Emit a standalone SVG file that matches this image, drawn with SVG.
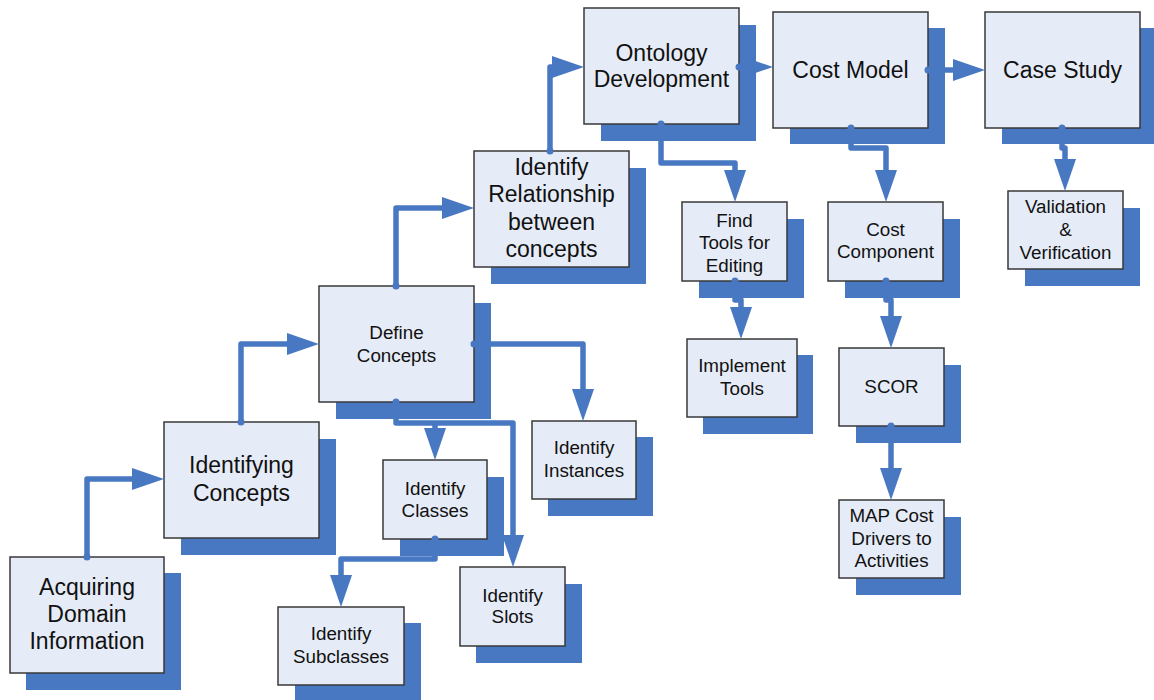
<svg xmlns="http://www.w3.org/2000/svg" width="1154" height="700" viewBox="0 0 1154 700">
<style>
.sh{fill:#4878c2}
.bx{fill:#e6ecf7;stroke:#383838;stroke-width:1.5}
text{font-family:"Liberation Sans",Arial,sans-serif;fill:#111;text-anchor:middle}
.b{font-size:23px}
.s{font-size:18.8px}
.c path{fill:none;stroke:#4878c2;stroke-width:5.5;stroke-linejoin:round;marker-end:url(#ah)}
.c circle{fill:#4878c2}
</style>
<defs>
<marker id="ah" markerUnits="userSpaceOnUse" markerWidth="40" markerHeight="30" refX="2" refY="11" orient="auto" viewBox="0 0 40 22">
<path d="M0,0 L32,11 L0,22 z" fill="#4878c2"/>
</marker>
</defs>
<rect width="1154" height="700" fill="#fff"/>

<g id="acquiring">
<rect class="sh" x="26" y="573" width="155" height="117"/>
<rect class="bx" x="10" y="557" width="154" height="116"/>
<text class="b" x="87" y="595">Acquiring</text>
<text class="b" x="87" y="622">Domain</text>
<text class="b" x="87" y="649">Information</text>
</g>
<g id="identifying-concepts">
<rect class="sh" x="181" y="439" width="155" height="116"/>
<rect class="bx" x="164" y="422" width="155" height="116"/>
<text class="b" x="241.5" y="473">Identifying</text>
<text class="b" x="241.5" y="501">Concepts</text>
</g>
<g id="define-concepts">
<rect class="sh" x="336" y="303" width="155" height="116"/>
<rect class="bx" x="319" y="286" width="155" height="116"/>
<text class="s" x="396.5" y="339">Define</text>
<text class="s" x="396.5" y="362">Concepts</text>
</g>
<g id="identify-relationship">
<rect class="sh" x="491" y="168" width="155" height="116"/>
<rect class="bx" x="474" y="151" width="155" height="116"/>
<text class="b" x="551.5" y="175">Identify</text>
<text class="b" x="551.5" y="202">Relationship</text>
<text class="b" x="551.5" y="230">between</text>
<text class="b" x="551.5" y="257">concepts</text>
</g>
<g id="ontology-development">
<rect class="sh" x="601" y="25" width="155" height="116"/>
<rect class="bx" x="584" y="8" width="155" height="116"/>
<text class="b" x="661.5" y="61">Ontology</text>
<text class="b" x="661.5" y="87">Development</text>
</g>
<g id="cost-model">
<rect class="sh" x="790" y="28" width="155" height="116"/>
<rect class="bx" x="773" y="12" width="155" height="116"/>
<text class="b" x="850.5" y="78">Cost Model</text>
</g>
<g id="case-study">
<rect class="sh" x="1002" y="28" width="155" height="116"/>
<rect class="bx" x="985" y="12" width="155" height="116"/>
<text class="b" x="1062.5" y="78">Case Study</text>
</g>
<g id="find-tools">
<rect class="sh" x="699" y="219" width="105" height="79"/>
<rect class="bx" x="682" y="202" width="105" height="79"/>
<text class="s" x="734.5" y="227">Find</text>
<text class="s" x="734.5" y="249">Tools for</text>
<text class="s" x="734.5" y="272">Editing</text>
</g>
<g id="implement-tools">
<rect class="sh" x="703" y="355" width="110" height="79"/>
<rect class="bx" x="687" y="339" width="110" height="78"/>
<text class="s" x="742" y="372">Implement</text>
<text class="s" x="742" y="395">Tools</text>
</g>
<g id="cost-component">
<rect class="sh" x="845" y="219" width="115" height="79"/>
<rect class="bx" x="828" y="202" width="115" height="79"/>
<text class="s" x="885.5" y="236">Cost</text>
<text class="s" x="885.5" y="258">Component</text>
</g>
<g id="scor">
<rect class="sh" x="856" y="365" width="105" height="78"/>
<rect class="bx" x="839" y="348" width="105" height="78"/>
<text class="s" x="891.5" y="393">SCOR</text>
</g>
<g id="map-cost-drivers">
<rect class="sh" x="856" y="517" width="105" height="78"/>
<rect class="bx" x="839" y="500" width="105" height="78"/>
<text class="s" x="891.5" y="522">MAP Cost</text>
<text class="s" x="891.5" y="545">Drivers to</text>
<text class="s" x="891.5" y="567">Activities</text>
</g>
<g id="validation">
<rect class="sh" x="1025" y="208" width="115" height="78"/>
<rect class="bx" x="1008" y="191" width="115" height="78"/>
<text class="s" x="1065.5" y="213">Validation</text>
<text class="s" x="1065.5" y="236">&amp;</text>
<text class="s" x="1065.5" y="259">Verification</text>
</g>
<g id="identify-instances">
<rect class="sh" x="548" y="437" width="105" height="79"/>
<rect class="bx" x="532" y="421" width="104" height="78"/>
<text class="s" x="584" y="454">Identify</text>
<text class="s" x="584" y="477">Instances</text>
</g>
<g id="identify-classes">
<rect class="sh" x="400" y="477" width="104" height="79"/>
<rect class="bx" x="383" y="460" width="104" height="79"/>
<text class="s" x="435" y="495">Identify</text>
<text class="s" x="435" y="517">Classes</text>
</g>
<g id="identify-slots">
<rect class="sh" x="476" y="584" width="106" height="79"/>
<rect class="bx" x="460" y="567" width="105" height="79"/>
<text class="s" x="512.5" y="602">Identify</text>
<text class="s" x="512.5" y="623">Slots</text>
</g>
<g id="identify-subclasses">
<rect class="sh" x="295" y="623" width="126" height="79"/>
<rect class="bx" x="278" y="607" width="126" height="78"/>
<text class="s" x="341" y="640">Identify</text>
<text class="s" x="341" y="663">Subclasses</text>
</g>

<g id="connectors" class="c">
<path d="M87,557 V479 H134"/>
<path d="M241,422 V344 H289"/>
<path d="M396,286 V208 H444"/>
<path d="M550,151 V67 H554"/>
<path d="M739,67 H743"/>
<path d="M928,70 H955"/>
<path d="M661,124 V163 H735 V172"/>
<path d="M851,128 V148 H886 V172"/>
<path d="M1062,128 V148 H1065 V161"/>
<path d="M735,281 V300 H741 V309"/>
<path d="M886,281 V300 H891 V318"/>
<path d="M891,426 V470"/>
<path d="M474,344 H583 V391"/>
<path d="M396,402 V423 H513 V537"/>
<path d="M435,423 V430"/>
<path d="M435,539 V559 H341 V577"/>
<circle cx="87" cy="557" r="3.5"/>
<circle cx="241" cy="422" r="3.5"/>
<circle cx="396" cy="286" r="3.5"/>
<circle cx="550" cy="151" r="3.5"/>
<circle cx="739" cy="67" r="3.5"/>
<circle cx="928" cy="70" r="3.5"/>
<circle cx="661" cy="124" r="3.5"/>
<circle cx="851" cy="128" r="3.5"/>
<circle cx="1062" cy="128" r="3.5"/>
<circle cx="735" cy="281" r="3.5"/>
<circle cx="886" cy="281" r="3.5"/>
<circle cx="891" cy="426" r="3.5"/>
<circle cx="474" cy="344" r="3.5"/>
<circle cx="396" cy="402" r="3.5"/>
<circle cx="435" cy="539" r="3.5"/>
</g>
</svg>
